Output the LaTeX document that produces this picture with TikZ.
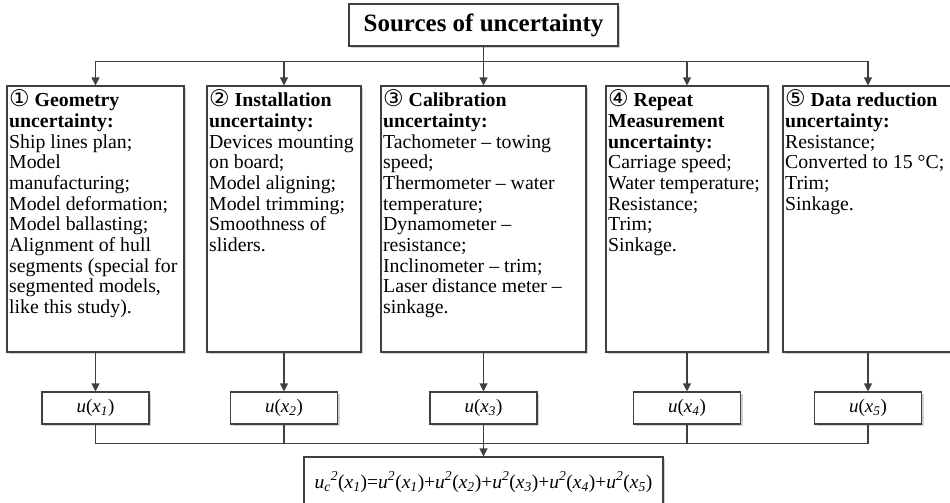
\documentclass[tikz,border=0pt]{standalone}
\usepackage{fontspec}
\setmainfont{Liberation Serif}
\newfontfamily\circfont{DejaVu Sans}
\usetikzlibrary{arrows.meta,shadows}

\newcommand\cnum[1]{{\circfont\fontsize{23}{20.7}\selectfont #1}}
\newcommand\ux[1]{\textit{u}(\textit{x}\textsubscript{\textit{#1}})}
\newcommand\usq[1]{\textit{u}\textsuperscript{\textit{2}}(\textit{x}\textsubscript{\textit{#1}})}

\tikzset{
  boxline/.style = {draw=black!75, line width=1.1pt, fill=white,
    general shadow={fill=black!18, shadow xshift=2.2pt, shadow yshift=-2.2pt}},
  srcbox/.style = {boxline, inner sep=0pt, minimum height=266pt},
  srctext/.style = {inner sep=0pt, align=left, anchor=north west,
    font=\fontsize{19.8}{20.7}\selectfont},
  ubox/.style = {boxline, inner sep=0pt, minimum width=107pt, minimum height=32pt,
    font=\fontsize{19}{22}\selectfont},
}

\begin{document}
\begin{tikzpicture}[x=1pt, y=-1pt,
    arrow/.style = {draw=black!75, line width=1.1pt, -{Triangle[width=8pt,length=8pt]}},
    bus/.style = {draw=black!75, line width=1.1pt}]
  \useasboundingbox (0,0) rectangle (950,503);

  % title
  \node[boxline, inner sep=0pt, minimum width=269pt, minimum height=42pt,
        font=\fontsize{25}{28}\selectfont\bfseries] (title) at (483.5,25) {Sources of uncertainty};

  % sources
  \node[srcbox, minimum width=177pt] (geom) at (95.5,219) {};
  \node[srcbox, minimum width=154pt] (inst) at (284,219) {};
  \node[srcbox, minimum width=205pt] (calib) at (483.5,219) {};
  \node[srcbox, minimum width=162pt] (rep) at (687,219) {};
  \node[srcbox, minimum width=170pt] (red) at (868,219) {};

  \node[srctext] (geomtxt) at ([shift={(2.5,4)}]geom.north west)
    {\cnum{①} \textbf{Geometry}\\ \textbf{uncertainty:}\\ Ship lines plan;\\ Model\\
     manufacturing;\\ Model deformation;\\ Model ballasting;\\ Alignment of hull\\
     segments (special for\\ segmented models,\\ like this study).};
  \node[srctext] (insttxt) at ([shift={(2.5,4)}]inst.north west)
    {\cnum{②} \textbf{Installation}\\ \textbf{uncertainty:}\\ Devices mounting\\ on board;\\
     Model aligning;\\ Model trimming;\\ Smoothness of\\ sliders.};
  \node[srctext] (calibtxt) at ([shift={(2.5,4)}]calib.north west)
    {\cnum{③} \textbf{Calibration}\\ \textbf{uncertainty:}\\ Tachometer -- towing\\ speed;\\
     Thermometer -- water\\ temperature;\\ Dynamometer --\\ resistance;\\
     Inclinometer -- trim;\\ Laser distance meter --\\ sinkage.};
  \node[srctext] (reptxt) at ([shift={(2.5,4)}]rep.north west)
    {\cnum{④} \textbf{Repeat}\\ \textbf{Measurement}\\ \textbf{uncertainty:}\\ Carriage speed;\\
     Water temperature;\\ Resistance;\\ Trim;\\ Sinkage.};
  \node[srctext] (redtxt) at ([shift={(2.5,4)}]red.north west)
    {\cnum{⑤} \textbf{Data reduction}\\ \textbf{uncertainty:}\\ Resistance;\\
     Converted to 15 °C;\\ Trim;\\ Sinkage.};

  % standard uncertainties
  \node[ubox] (u1) at (95.5,408) {\ux{1}};
  \node[ubox] (u2) at (284,408) {\ux{2}};
  \node[ubox] (u3) at (483.5,408) {\ux{3}};
  \node[ubox] (u4) at (687,408) {\ux{4}};
  \node[ubox] (u5) at (868,408) {\ux{5}};

  % combined
  \node[boxline, inner sep=0pt, minimum width=359pt, minimum height=50pt,
        font=\fontsize{19.5}{22}\selectfont] (sum) at (483.5,482)
    {\textit{u}\textsubscript{\textit{c}}\textsuperscript{\textit{2}}(\textit{x}\textsubscript{\textit{1}})=\usq{1}+\usq{2}+\usq{3}+\usq{4}+\usq{5}};

  % connectors
  \foreach \src in {geom,inst,rep,red}
    \draw[arrow] (title.south) -- ++(0,15) -| (\src.north);
  \draw[arrow] (title.south) -- (calib.north);

  \foreach \src/\u in {geom/u1,inst/u2,calib/u3,rep/u4,red/u5}
    \draw[arrow] (\src.south) -- (\u.north);

  \foreach \u in {u1,u2,u4,u5}
    \draw[bus] (\u.south) -- ++(0,19) -| (sum.north);
  \draw[arrow] (u3.south) -- (sum.north);
\end{tikzpicture}
\end{document}
